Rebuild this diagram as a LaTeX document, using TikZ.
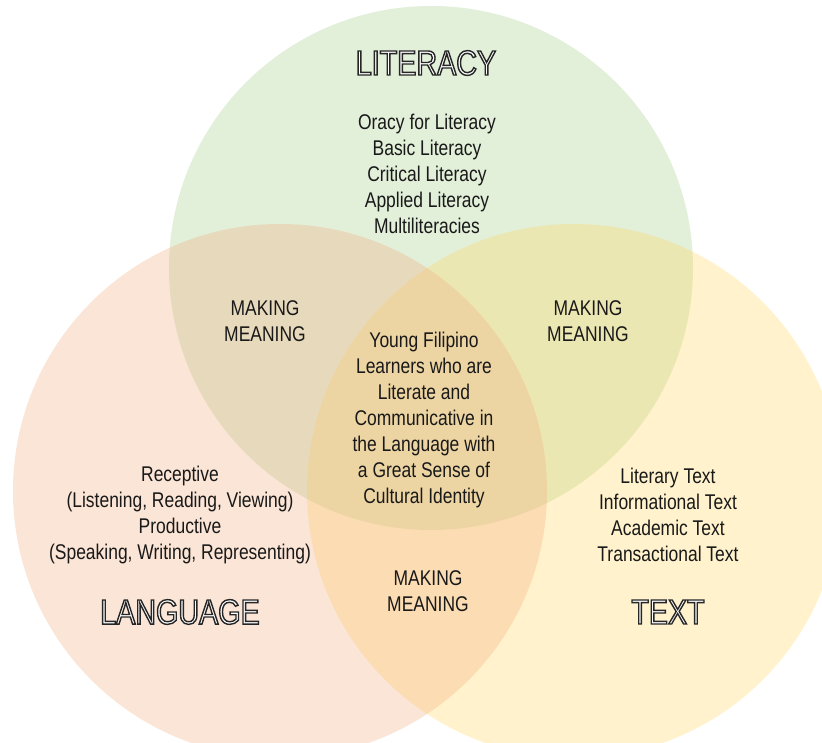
\documentclass[tikz,border=0pt]{standalone}
\usepackage{fontspec}
\setmainfont[FakeStretch=0.82]{Liberation Sans}
\definecolor{cgreen}{RGB}{169,208,142}
\definecolor{corange}{RGB}{244,177,131}
\definecolor{cyellow}{RGB}{255,217,102}
\definecolor{ctext}{RGB}{25,25,25}
\tikzset{
  venn/.style={fill opacity=0.33},
  body/.style={align=center, text=ctext, inner sep=0pt, font=\fontsize{21.3}{26}\selectfont},
  title/.style={inner sep=0pt, font=\fontsize{35}{40}\selectfont},
}
\newcommand{\outlinetitle}[1]{\textcolor{white}{\special{pdf:literal direct 2 Tr 1.4 w 0.15 0.15 0.15 RG}#1\special{pdf:literal direct 0 Tr}}}
\begin{document}
\begin{tikzpicture}[x=1pt,y=-1pt]
\useasboundingbox (0,0) rectangle (822,743);
\clip (0,0) rectangle (822,743);
\fill[white] (0,0) rectangle (822,743);
\fill[venn, cgreen] (431,268) circle (262);
\fill[venn, cyellow] (574,491) circle (267);
\fill[venn, corange] (280,491) circle (267);

\node[title] (tlit) at (426,63) {\outlinetitle{LITERACY}};
\node[title] (tlang) at (180,612) {\outlinetitle{LANGUAGE}};
\node[title] (ttext) at (668,612) {\outlinetitle{TEXT}};

\node[body] (lit) at (427,174) {Oracy for Literacy\\Basic Literacy\\Critical Literacy\\Applied Literacy\\Multiliteracies};
\node[body] (mml) at (265,321) {MAKING\\MEANING};
\node[body] (mmr) at (588,321) {MAKING\\MEANING};
\node[body] (core) at (424,420) {Young Filipino\\Learners who are\\Literate and\\Communicative in\\the Language with\\a Great Sense of\\Cultural Identity};
\node[body] (lang) at (180,515) {Receptive\\(Listening, Reading, Viewing)\\Productive\\(Speaking, Writing, Representing)};
\node[body] (txt) at (668,515) {Literary Text\\Informational Text\\Academic Text\\Transactional Text};
\node[body] (mmb) at (428,591) {MAKING\\MEANING};
\end{tikzpicture}
\end{document}
